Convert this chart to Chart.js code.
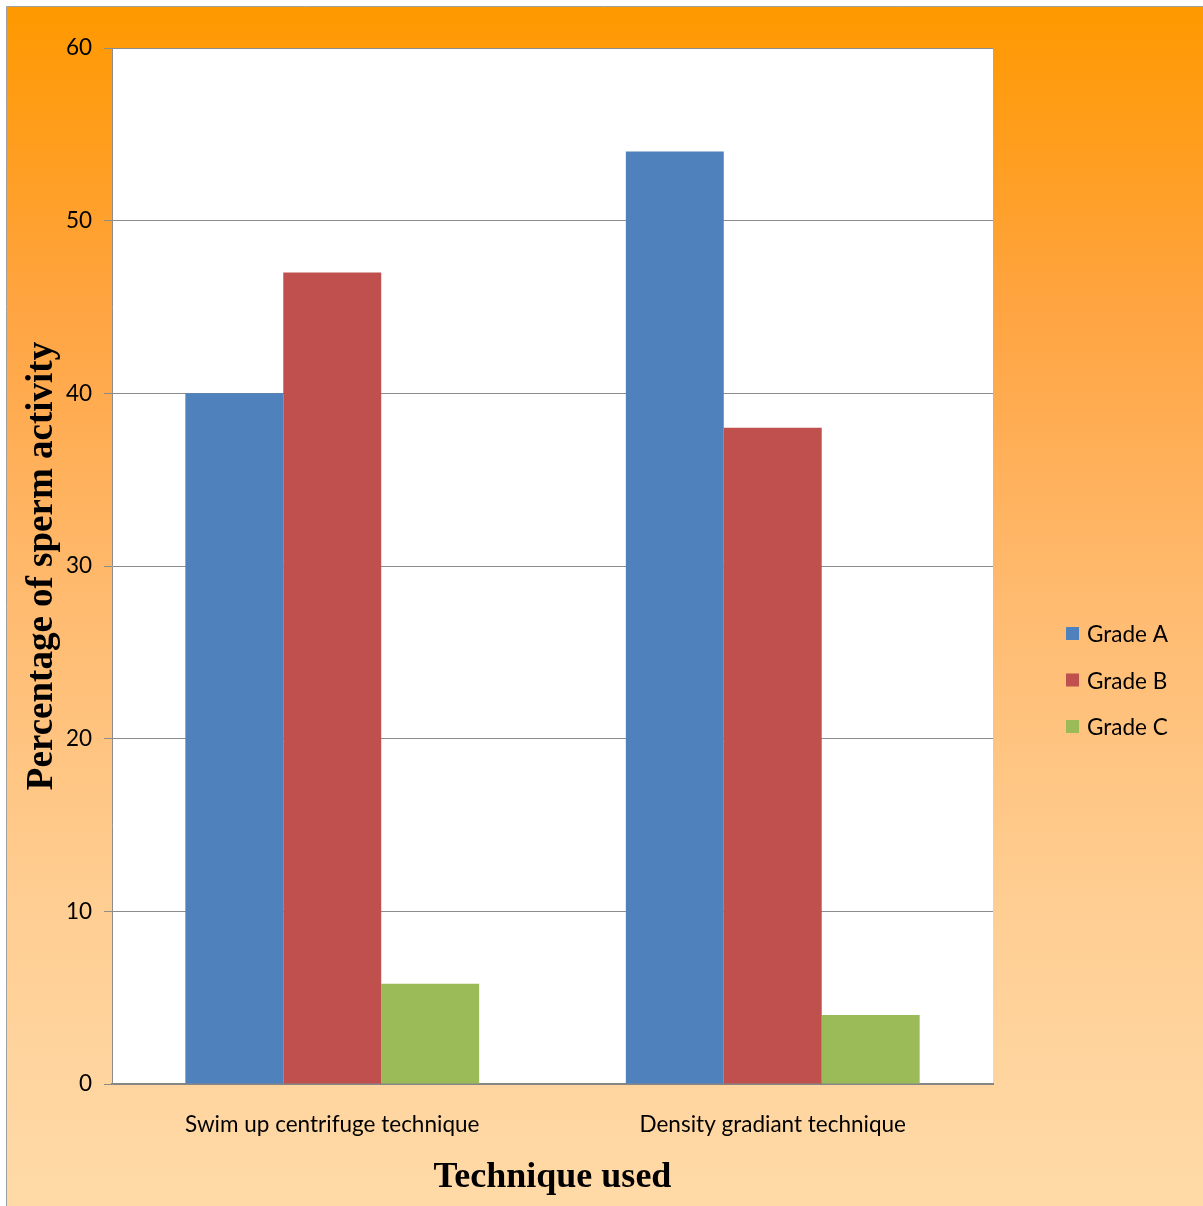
<!DOCTYPE html>
<html>
<head>
<meta charset="utf-8">
<title>Percentage of sperm activity by technique</title>
<script src="https://cdn.jsdelivr.net/npm/chart.js@4.4.1/dist/chart.umd.min.js"></script>
<style>
  html, body { margin: 0; padding: 0; background: #ffffff; }
  #wrap { width: 1203px; height: 1206px; }
</style>
</head>
<body>
<div id="wrap"><canvas id="spermChart" width="1203" height="1206"></canvas></div>
<script>
// categorias y valores por grado
const techniques = ['Swim up centrifuge technique', 'Density gradiant technique'];
const gradeLabels = ['Grade A', 'Grade B', 'Grade C'];
const gradeA = [40, 54];
const gradeB = [47, 38];
const gradeC = [5.8, 4];
const gradeColors = ['#4F81BD', '#C0504D', '#9BBB59'];
const yTicks = [0, 10, 20, 30, 40, 50, 60];

const tickFont = { family: 'Lato, "Open Sans", sans-serif', size: 22.5 };
const xTitleFont = { family: '"Liberation Serif", "Times New Roman", serif', size: 36, weight: 'bold' };
const yTitleFont = { family: '"Liberation Serif", "Times New Roman", serif', size: 37, weight: 'bold' };

// fondo degradado naranja con marco gris
const backgroundPlugin = {
    id: 'orangeBackground',
    beforeDraw(chart) {
        const ctx = chart.ctx;
        const w = chart.width, h = chart.height;
        ctx.save();
        ctx.fillStyle = '#ffffff';
        ctx.fillRect(0, 0, w, h);
        const grad = ctx.createLinearGradient(0, 7, 0, h);
        grad.addColorStop(0, '#FF9900');
        grad.addColorStop(0.25, '#FFA441');
        grad.addColorStop(0.5, '#FFBB70');
        grad.addColorStop(0.75, '#FFCE93');
        grad.addColorStop(1, '#FFDAA7');
        ctx.fillStyle = grad;
        ctx.fillRect(7, 7, w - 7, h - 7);
        ctx.strokeStyle = '#a0a0a0';
        ctx.lineWidth = 1;
        ctx.beginPath();
        ctx.moveTo(6.5, h);
        ctx.lineTo(6.5, 6.5);
        ctx.lineTo(w, 6.5);
        ctx.stroke();
        // area del grafico en blanco
        const a = chart.chartArea;
        ctx.fillStyle = '#ffffff';
        ctx.fillRect(a.left, a.top, a.right - a.left, a.bottom - a.top);
        ctx.restore();
    }
};

// leyenda a la derecha, dibujada a mano para fijar su posicion
const sideLegendPlugin = {
    id: 'sideLegend',
    afterDraw(chart) {
        const ctx = chart.ctx;
        const x = 1066, y0 = 634, step = 46.5;
        ctx.save();
        ctx.font = tickFont.size + 'px ' + tickFont.family;
        ctx.textBaseline = 'middle';
        ctx.textAlign = 'left';
        chart.data.datasets.forEach((ds, i) => {
            const y = y0 + i * step;
            ctx.fillStyle = ds.backgroundColor;
            ctx.fillRect(x, y - 7, 13, 13);
            ctx.fillStyle = '#000000';
            ctx.fillText(ds.label, x + 21, y + 1);
        });
        ctx.restore();
    }
};

const ctx = document.getElementById('spermChart').getContext('2d');
new Chart(ctx, {
    type: 'bar',
    data: {
        labels: techniques,
        datasets: [
            { label: gradeLabels[0], data: gradeA, backgroundColor: gradeColors[0] },
            { label: gradeLabels[1], data: gradeB, backgroundColor: gradeColors[1] },
            { label: gradeLabels[2], data: gradeC, backgroundColor: gradeColors[2] }
        ]
    },
    options: {
        responsive: false,
        animation: false,
        layout: { padding: { left: 8, top: 48, right: 210, bottom: 2 } },
        datasets: {
            bar: { barPercentage: 1, categoryPercentage: 0.667, borderWidth: 0 }
        },
        plugins: {
            legend: { display: false },
            tooltip: { enabled: false }
        },
        scales: {
            x: {
                grid: { display: false, drawTicks: false },
                border: { display: true, color: '#868686', width: 2 },
                ticks: { color: '#000000', font: tickFont, padding: 27, maxRotation: 0 },
                title: { display: true, text: 'Technique used', color: '#000000', font: xTitleFont, padding: { top: 0, bottom: 5 } },
                afterFit(scale) { scale.height = 1206 - 2 - 1084; }
            },
            y: {
                min: 0,
                max: 60,
                afterBuildTicks(scale) { scale.ticks = yTicks.map(v => ({ value: v })); },
                grid: { color: '#8c8c8c', lineWidth: 1, tickLength: 8, drawTicks: true },
                border: { display: true, color: '#8c8c8c', width: 1 },
                ticks: { color: '#000000', font: tickFont, padding: 12 },
                title: { display: true, text: 'Percentage of sperm activity', color: '#000000', font: yTitleFont, padding: { top: 12, bottom: 0 } },
                afterFit(scale) { scale.width = 112 - 8; }
            }
        }
    },
    plugins: [backgroundPlugin, sideLegendPlugin]
});
</script>
</body>
</html>
